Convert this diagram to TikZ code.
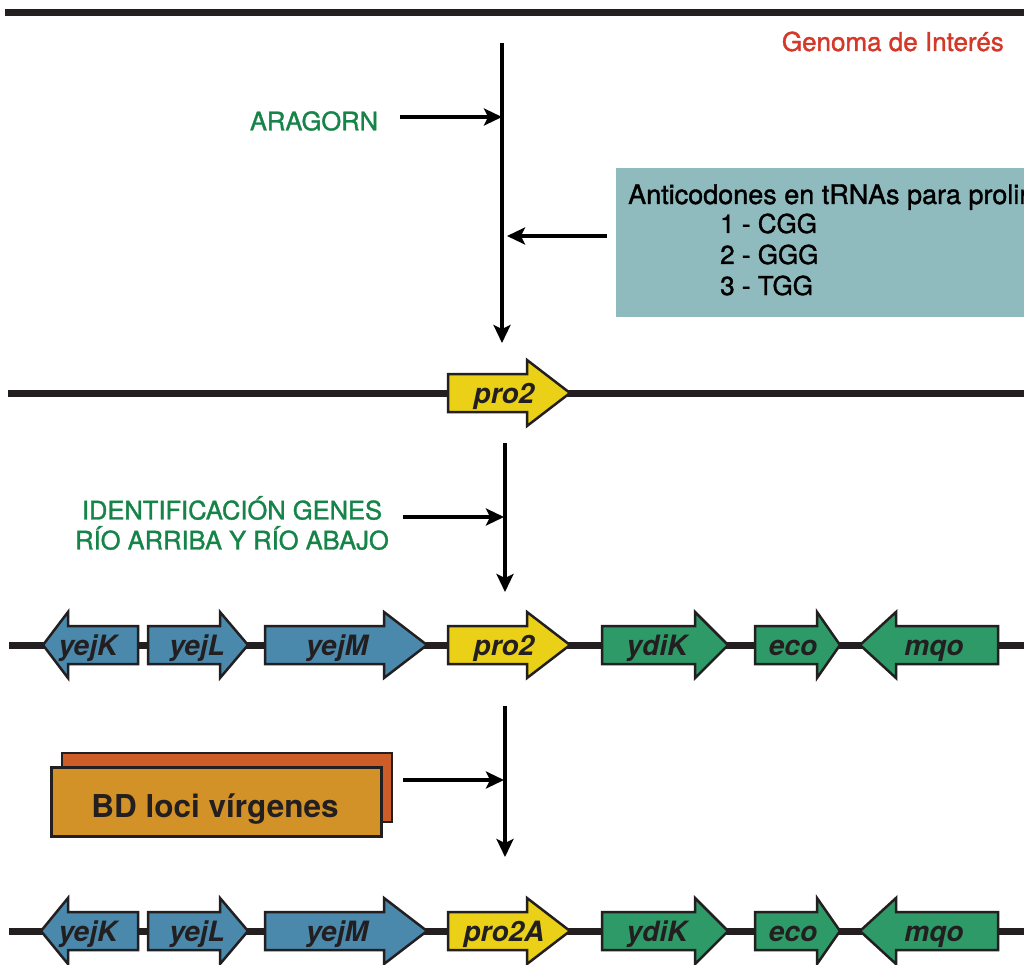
\documentclass[tikz,border=0pt]{standalone}
\usepackage{fontspec}
\setmainfont{TeX Gyre Heros}
\newfontfamily\mediumfont[FakeBold=1.3]{TeX Gyre Heros}
\usetikzlibrary{arrows.meta}
\definecolor{dk}{RGB}{35,31,32}
\definecolor{gblue}{RGB}{74,137,172}
\definecolor{ggreen}{RGB}{46,154,104}
\definecolor{gyellow}{RGB}{234,208,22}
\definecolor{bdfront}{RGB}{211,146,40}
\definecolor{bdback}{RGB}{204,92,40}
\definecolor{boxteal}{RGB}{143,186,190}
\definecolor{txtgreen}{RGB}{22,132,72}
\definecolor{txtred}{RGB}{212,56,40}
\tikzset{
  genome/.style={line width=7pt, draw=dk},
  flow/.style={line width=3.2pt, draw=black, -{Stealth[length=18pt,width=17pt,inset=4pt]}},
  genebody/.style={line width=2.5pt, draw=dk, line join=miter},
  genelabel/.style={font=\fontsize{28}{28}\selectfont\bfseries\itshape, text=dk, inner sep=0pt, anchor=base},
  steplabel/.style={font=\mediumfont\fontsize{25.5}{30}\selectfont, text=txtgreen, inner sep=0pt, align=center},
  boxtext/.style={font=\mediumfont\fontsize{26}{30}\selectfont, text=black, anchor=base west, inner sep=0pt},
}
% forward gene: name, x0, xb, xt, yc, colour, label, label x
\newcommand{\genefwd}[8]{%
  \draw[genebody, fill=#6] (#2,#5-19) -- (#3,#5-19) -- (#3,#5-33) -- (#4,#5) -- (#3,#5+33) -- (#3,#5+19) -- (#2,#5+19) -- cycle;
  \node[genelabel] (#1) at (#8,#5+10) {#7};}
% reverse gene: name, xt, xb, x1, yc, colour, label, label x
\newcommand{\generev}[8]{%
  \draw[genebody, fill=#6] (#2,#5) -- (#3,#5-33) -- (#3,#5-19) -- (#4,#5-19) -- (#4,#5+19) -- (#3,#5+19) -- (#3,#5+33) -- cycle;
  \node[genelabel] (#1) at (#8,#5+10) {#7};}
\begin{document}
\begin{tikzpicture}[x=1pt,y=-1pt]
\useasboundingbox (0,0) rectangle (1024,965);
\clip (0,0) rectangle (1024,965);
\fill[white] (0,0) rectangle (1024,965);

% top genome
\draw[genome] (5,12.5) -- (1024,12.5);
\node[font=\mediumfont\fontsize{26}{30}\selectfont, text=txtred, anchor=base east, inner sep=0pt] (genoma) at (1004,51) {Genoma de Interés};

% step 1
\coordinate (v1top) at (502,43);
\coordinate (v1bot) at (502,343);
\coordinate (v1a) at (502,117);
\coordinate (v1b) at (507,236);
\draw[flow] (v1top) -- (v1bot);
\node[steplabel] (aragorn) at (314,121) {ARAGORN};
\coordinate (aragornend) at (400,117);
\draw[flow] (aragornend) -- (v1a);

\fill[boxteal] (616,168) rectangle (1030,317);
\node[boxtext, font=\mediumfont\fontsize{27}{30}\selectfont] (anticod) at (628,204) {Anticodones en tRNAs para prolina};
\node[boxtext] (c1) at (720,233) {1 - CGG};
\node[boxtext] (c2) at (720,264) {2 - GGG};
\node[boxtext] (c3) at (720,295) {3 - TGG};
\coordinate (boxend) at (607,236);
\draw[flow] (boxend) -- (v1b);

% row 2
\draw[genome] (8,393) -- (1024,393);
\genefwd{pro2a}{448}{527}{570}{393}{gyellow}{pro2}{504}

% step 2
\coordinate (v2top) at (505,443);
\coordinate (v2bot) at (505,592);
\coordinate (v2a) at (504,517);
\draw[flow] (v2top) -- (v2bot);
\node[steplabel] (ident) at (232,523) {IDENTIFICACIÓN GENES\\RÍO ARRIBA Y RÍO ABAJO};
\coordinate (identend) at (403,517);
\draw[flow] (identend) -- (v2a);

% row 3
\draw[genome] (9,645) -- (1024,645);
\generev{yejKa}{43}{68}{138}{645}{gblue}{yejK}{88}
\genefwd{yejLa}{148}{220}{248}{645}{gblue}{yejL}{197}
\genefwd{yejMa}{265}{384}{427}{645}{gblue}{yejM}{337}
\genefwd{pro2b}{448}{527}{570}{645}{gyellow}{pro2}{504}
\genefwd{ydiKa}{602}{695}{728}{645}{ggreen}{ydiK}{657}
\genefwd{ecoa}{755}{817}{840}{645}{ggreen}{eco}{793}
\generev{mqoa}{860}{896}{998}{645}{ggreen}{mqo}{934}

% step 3
\coordinate (v3top) at (505,706);
\coordinate (v3bot) at (505,857);
\coordinate (v3a) at (504,780);
\draw[flow] (v3top) -- (v3bot);
\draw[line width=2.5pt, draw=dk, fill=bdback] (62,753) rectangle (392,822);
\node[draw=dk, line width=2.5pt, fill=bdfront, minimum width=330pt, minimum height=69pt, inner sep=0pt, anchor=north west] (bd) at (50,766) {};
\node[font=\fontsize{31.5}{31.5}\selectfont\bfseries, text=dk, inner sep=0pt, anchor=base] (bdtext) at (215,817) {BD loci vírgenes};
\coordinate (bdend) at (403,780);
\draw[flow] (bdend) -- (v3a);

% row 4
\draw[genome] (9,931) -- (1024,931);
\generev{yejKb}{41}{68}{138}{931}{gblue}{yejK}{88}
\genefwd{yejLb}{148}{220}{248}{931}{gblue}{yejL}{197}
\genefwd{yejMb}{265}{384}{427}{931}{gblue}{yejM}{337}
\genefwd{pro2c}{448}{527}{570}{931}{gyellow}{pro2A}{504}
\genefwd{ydiKb}{602}{695}{728}{931}{ggreen}{ydiK}{657}
\genefwd{ecob}{755}{817}{840}{931}{ggreen}{eco}{793}
\generev{mqob}{860}{896}{998}{931}{ggreen}{mqo}{934}
\end{tikzpicture}
\end{document}
